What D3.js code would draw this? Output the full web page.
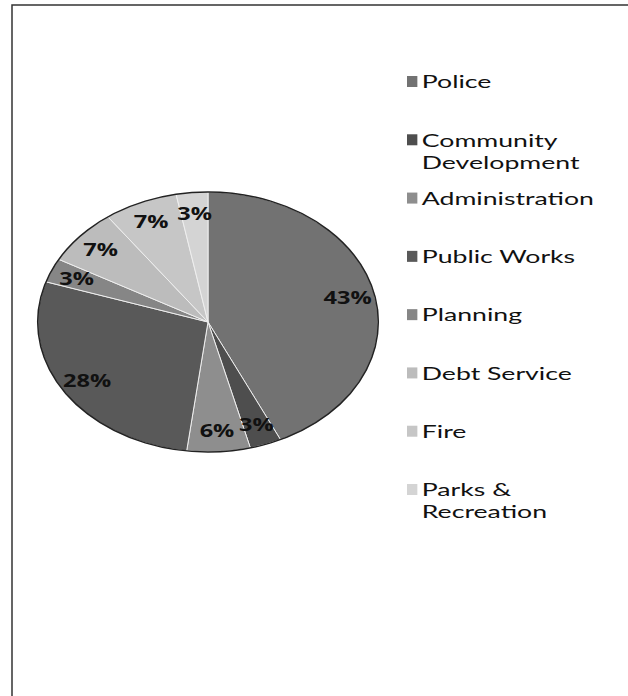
<!DOCTYPE html>
<html>
<head>
<meta charset="utf-8">
<script src="https://cdn.jsdelivr.net/npm/d3@7"></script>
<style>
  body { margin: 0; background: #fff; }
  svg { display: block; }
  .pct { font-family: "Open Sans", sans-serif; font-weight: bold; fill: #111; }
  .legendText { font-family: Lato, sans-serif; fill: #111; }
</style>
</head>
<body>
<svg width="628" height="696"></svg>
<script>
// Budget share by department, clockwise from 12 o'clock
let categories = ["Police", "Community Development", "Administration", "Public Works",
                  "Planning", "Debt Service", "Fire", "Parks & Recreation"];
let shares = [43, 3, 6, 28, 3, 7, 7, 3];
// legend labels as they wrap in the picture
let legendLines = [["Police"], ["Community", "Development"], ["Administration"], ["Public Works"],
                   ["Planning"], ["Debt Service"], ["Fire"], ["Parks &", "Recreation"]];
let grays = ["#727272", "#4e4e4e", "#8e8e8e", "#595959", "#868686", "#bcbcbc", "#c6c6c6", "#d4d4d4"];

let svg = d3.select("svg"),
    width = +svg.attr("width"),
    height = +svg.attr("height");

//the scan is stretched sideways, so everything gets an x factor
let sx = 1.31;
let legendSx = 1.48;
let r = 130;

let color = d3.scaleOrdinal()
    .domain(categories)
    .range(grays);

//frame of the chart area (only left and top survive in the scan)
svg.append("path")
    .attr("d", "M12," + height + "V5H" + width)
    .attr("fill", "none")
    .attr("stroke", "#333")
    .attr("stroke-width", 1.5);

let data = categories.map((c, i) => ({name: c, value: shares[i]}));

let pie = d3.pie()
    .value(d => d.value)
    .sort(null);

let arc = d3.arc()
    .innerRadius(0)
    .outerRadius(r);

let labelArc = d3.arc()
    .innerRadius(r * 0.84)
    .outerRadius(r * 0.84);

let pieGroup = svg.append("g")
    .attr("transform", "translate(208,322) scale(" + sx + ",1)");

pieGroup.selectAll("path.slice")
    .data(pie(data)).enter().append("path")
        .attr("class", "slice")
        .attr("d", arc)
        .attr("fill", d => color(d.data.name))
        .attr("stroke", "#eee")
        .attr("stroke-width", 1)
        .attr("vector-effect", "non-scaling-stroke");

//dark rim from the scan
pieGroup.append("circle")
    .attr("r", r)
    .attr("fill", "none")
    .attr("stroke", "#222")
    .attr("stroke-width", 1.5)
    .attr("vector-effect", "non-scaling-stroke");

pieGroup.selectAll("text.pct")
    .data(pie(data)).enter().append("text")
        .attr("class", "pct")
        .attr("transform", d => "translate(" + labelArc.centroid(d) + ")")
        .attr("text-anchor", "middle")
        .attr("dy", "0.35em")
        .style("font-size", "18px")
        .text(d => d.data.value + "%");

/* LEGEND */
let legendY = d3.scalePoint()
    .domain(categories)
    .range([82, 490]);

let legend = svg.append("g")
    .attr("class", "legend")
    .selectAll("g")
    .data(categories).enter().append("g")
        .attr("transform", d => "translate(407," + legendY(d) + ") scale(" + legendSx + ",1)");

legend.append("rect")
    .attr("x", 0)
    .attr("y", -6)
    .attr("width", 7)
    .attr("height", 11)
    .attr("fill", d => color(d));

legend.selectAll("text")
    .data((d, i) => legendLines[i]).enter().append("text")
        .attr("class", "legendText")
        .attr("x", 10)
        .attr("y", (d, i) => i * 22)
        .attr("dy", "0.35em")
        .style("font-size", "18px")
        .text(d => d);
</script>
</body>
</html>
